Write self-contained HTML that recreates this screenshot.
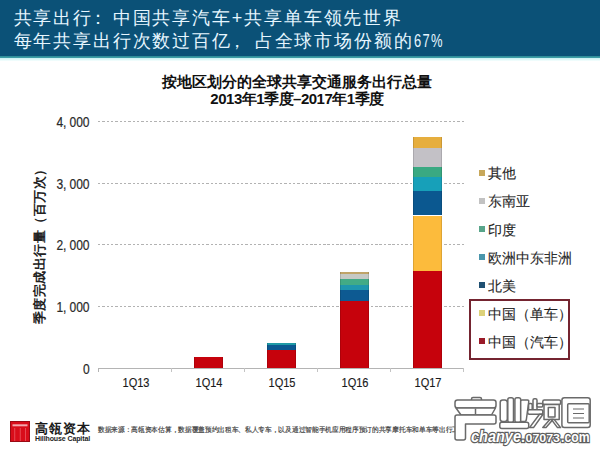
<!DOCTYPE html>
<html><head><meta charset="utf-8">
<style>
html,body{margin:0;padding:0;width:600px;height:450px;overflow:hidden;background:#fff;font-family:"Liberation Sans",sans-serif;}
.a{position:absolute;white-space:nowrap;}
#hdr{position:absolute;left:0;top:0;width:600px;height:56px;background:#0b5177;}
#hdrline{position:absolute;left:0;top:55.5px;width:600px;height:2.5px;background:linear-gradient(#2a8895,#44a4ac);}
#hdrglow{position:absolute;left:0;top:58px;width:600px;height:3px;background:linear-gradient(#c8f2f2,#f6fefe);}
.h1{color:#e6f6ff;font-size:18px;letter-spacing:1.85px;left:13.5px;line-height:20px;margin-top:1px;}
.title{font-weight:bold;font-size:15px;color:#111;line-height:16px;width:600px;text-align:center;left:-3px;margin-top:1px;}
.yl{font-size:14px;color:#2a2a2a;-webkit-text-stroke:.2px #2a2a2a;line-height:14px;right:510px;text-align:right;transform:scaleX(.86);transform-origin:100% 50%;}
.grid{position:absolute;left:98px;width:366px;height:1px;background:repeating-linear-gradient(90deg,#b2b2b2 0 2.4px,rgba(255,255,255,0) 2.4px 4.33px);}
.xl{font-size:12px;color:#1a1a1a;-webkit-text-stroke:.15px #1a1a1a;line-height:14px;width:60px;text-align:center;transform:scaleX(.92);margin-top:-1px;}
.bar{position:absolute;width:29px;box-shadow:inset 1px 0 rgba(0,0,0,.12),inset -1px 0 rgba(0,0,0,.12);}
.lg{font-size:13.5px;color:#1e1e1e;line-height:14px;left:488px;-webkit-text-stroke:.1px #1e1e1e;}
.sq{position:absolute;left:479px;width:6px;height:6px;}
</style></head><body>
<div id="hdr"></div><div id="hdrline"></div><div id="hdrglow"></div>
<div class="a h1" style="top:7px">共享出行<span style="position:relative;left:-4px">：</span>中国共享汽车+共享单车领先世界</div>
<div class="a h1" style="top:30px">每年共享出行次数过百亿<span style="position:relative;left:-4px;margin-right:3px">，</span>占全球市场份额的<span style="display:inline-block;transform:scaleX(.72);transform-origin:0 50%">67%</span></div>

<div class="a title" style="top:73px">按地区划分的全球共享交通服务出行总量</div>
<div class="a title" style="top:90px;letter-spacing:-.5px">2013年1季度–2017年1季度</div>

<!-- y axis title -->
<div class="a" style="left:40px;top:243px;transform:translate(-50%,-50%) rotate(-90deg);font-size:13.4px;letter-spacing:.5px;font-weight:bold;color:#222;line-height:14px;">季度完成出行量（百万次）</div>

<div class="a yl" style="top:115px">4,<span style="margin-left:3.5px">000</span></div>
<div class="a yl" style="top:177px">3,<span style="margin-left:3.5px">000</span></div>
<div class="a yl" style="top:238px">2,<span style="margin-left:3.5px">000</span></div>
<div class="a yl" style="top:300px">1,<span style="margin-left:3.5px">000</span></div>
<div class="a yl" style="top:362px">0</div>

<div class="grid" style="top:121px"></div>
<div class="grid" style="top:183px"></div>
<div class="grid" style="top:244px"></div>
<div class="grid" style="top:306px"></div>
<div style="position:absolute;left:98px;top:368px;width:366px;height:1px;background:#b4b4b4"></div>
<div style="position:absolute;left:98px;top:368px;width:1px;height:4px;background:#b4b4b4"></div>
<div style="position:absolute;left:171px;top:368px;width:1px;height:4px;background:#c4c4c4"></div>
<div style="position:absolute;left:244px;top:368px;width:1px;height:4px;background:#c4c4c4"></div>
<div style="position:absolute;left:317px;top:368px;width:1px;height:4px;background:#c4c4c4"></div>
<div style="position:absolute;left:390px;top:368px;width:1px;height:4px;background:#c4c4c4"></div>
<div style="position:absolute;left:463px;top:368px;width:1px;height:4px;background:#c4c4c4"></div>

<!-- bars -->
<div class="bar" style="left:194px;top:357px;height:11px;background:#c6020c"></div>

<div class="bar" style="left:267px;top:343px;height:2px;background:#1f9aa6"></div>
<div class="bar" style="left:267px;top:345px;height:5px;background:#0b5890"></div>
<div class="bar" style="left:267px;top:350px;height:18px;background:#c6020c"></div>

<div class="bar" style="left:340px;top:272px;height:2px;background:#c0a468"></div>
<div class="bar" style="left:340px;top:274px;height:5px;background:#c6c9c4"></div>
<div class="bar" style="left:340px;top:279px;height:6px;background:#42ab86"></div>
<div class="bar" style="left:340px;top:285px;height:5px;background:#1f96ae"></div>
<div class="bar" style="left:340px;top:290px;height:11px;background:#0d5a92"></div>
<div class="bar" style="left:340px;top:301px;height:67px;background:#c6020c"></div>

<div class="bar" style="left:413px;top:137px;height:11px;background:#e6ae3e"></div>
<div class="bar" style="left:413px;top:148px;height:19px;background:#c3c1c6"></div>
<div class="bar" style="left:413px;top:167px;height:10px;background:#3aa982"></div>
<div class="bar" style="left:413px;top:177px;height:14px;background:#17a0b9"></div>
<div class="bar" style="left:413px;top:191px;height:24px;background:#0b5890"></div>
<div class="bar" style="left:413px;top:216px;height:55px;background:#fcbb3c"></div>
<div class="bar" style="left:413px;top:271px;height:97px;background:#c6020c"></div>

<div class="a xl" style="left:106px;top:377px">1Q13</div>
<div class="a xl" style="left:179px;top:377px">1Q14</div>
<div class="a xl" style="left:252px;top:377px">1Q15</div>
<div class="a xl" style="left:325px;top:377px">1Q16</div>
<div class="a xl" style="left:398px;top:377px">1Q17</div>

<!-- legend -->
<div class="sq" style="top:170px;background:#c8a85a"></div><div class="a lg" style="top:167px">其他</div>
<div class="sq" style="top:198px;background:#c2c2c2"></div><div class="a lg" style="top:195px">东南亚</div>
<div class="sq" style="top:226px;background:#58a58a"></div><div class="a lg" style="top:224px">印度</div>
<div class="sq" style="top:254px;background:#4a96ac"></div><div class="a lg" style="top:252px">欧洲中东非洲</div>
<div class="sq" style="top:282px;background:#1f5072"></div><div class="a lg" style="top:280px">北美</div>
<div style="position:absolute;left:469px;top:299px;width:97px;height:57px;border:2px solid #742430;"></div>
<div class="sq" style="top:310px;background:#ddd27a"></div><div class="a lg" style="top:308px">中国（单车）</div>
<div class="sq" style="top:338px;background:#9a1a28"></div><div class="a lg" style="top:336px">中国（汽车）</div>
<!-- footer -->
<svg style="position:absolute;left:10px;top:421px" width="20" height="21" viewBox="0 0 20 21">
<rect x="0" y="0" width="20" height="21" fill="#9a0a14"/>
<rect x="1" y="1" width="18" height="19" fill="#d80d1a"/>
<rect x="2.5" y="3.3" width="15" height="2" fill="#f2a8ae"/>
<rect x="4.3" y="7" width="0.9" height="13" fill="#e8505a"/>
<rect x="9.8" y="7" width="0.9" height="13" fill="#e8505a"/>
<rect x="15" y="7" width="0.9" height="13" fill="#e8505a"/>
</svg>
<div class="a" style="left:35px;top:422px;font-size:13px;font-weight:bold;letter-spacing:.9px;color:#1a1a1a;line-height:14px">高瓴资本</div>
<div class="a" style="left:35px;top:435px;font-size:7px;font-weight:bold;color:#222;line-height:8px;letter-spacing:-.1px">Hillhouse Capital</div>
<div class="a" style="left:98px;top:425.5px;font-size:14px;color:#444;font-family:'Liberation Serif',serif;line-height:16px;transform:scale(.4775,.5);transform-origin:0 0;-webkit-text-stroke:.4px #444">数据来源：高瓴资本估算，数据覆盖预约出租车、私人专车，以及通过智能手机应用程序预订的共享摩托车和单车等出行工具</div>
<!-- watermark -->
<svg style="position:absolute;left:0;top:0" width="600" height="450" viewBox="0 0 600 450">
<g fill="#fff" stroke="#6a6a6a" stroke-width="1.5" stroke-linejoin="round">
<!-- chan -->
<rect x="471.5" y="397.5" width="10" height="4" rx="1.5"/>
<rect x="455" y="400" width="41" height="8" rx="2.5"/>
<path d="M456,408 L461,415 L491.5,415 L495.5,408 Z"/>
<path d="M475.5,408.5 V414.5" fill="none"/>
<path d="M457,415 H494 Q496,415 496,417 V422 Q496,424 494,424 H465.5 V438 Q465.5,440 463.5,440 H457 Q455,440 455,438 V417 Q455,415 457,415 Z"/>
<!-- ye -->
<rect x="500.2" y="400" width="7.1" height="21.5" rx="2.5"/>
<rect x="507.8" y="397.8" width="5.7" height="24.7" rx="2"/>
<rect x="514.9" y="397.8" width="5.8" height="24.7" rx="2"/>
<path d="M522,400 H527.5 Q529,400 528.7,402 L526.3,420 Q526,421.5 524.5,421.5 H521 Q520.7,421.5 520.7,420 V401.5 Q520.7,400 522,400 Z"/>
<rect x="499.8" y="422.2" width="28.9" height="6.2" rx="2"/>
<!-- pin left -->
<rect x="533" y="398.7" width="4" height="14" rx="1.5"/>
<rect x="537" y="403.6" width="5.8" height="3.3" rx="1.2"/>
<rect x="528.6" y="403.6" width="3.6" height="8.5" rx="1.2"/>
<rect x="527.7" y="409.8" width="15.1" height="4.4" rx="1.5"/>
<path d="M539.5,414.2 L543,414.2 L533.5,427.6 L529.5,427.6 Z"/>
<!-- pin right -->
<rect x="542.8" y="400" width="17.8" height="4.4" rx="1.5"/>
<path d="M544,404.4 H559.2 V419.6 H544 Z"/>
<path d="M548.3,407.5 H555 V417 H548.3 Z"/>
<path d="M549.9,419.6 L553,419.6 L546,427.6 L542.8,427.6 Z"/>
<path d="M551.5,419.6 L554.3,419.6 L560.6,427.6 L557.5,427.6 Z"/>
<!-- dao -->
<rect x="561.9" y="397.8" width="28.3" height="29.8" rx="2.5"/>
<rect x="567.7" y="403.7" width="21.5" height="19" rx="1"/>
</g>
<g fill="none" stroke="#6a6a6a" stroke-width="1.2">
<path d="M573,409 H584 M573,413.5 H584 M573,418 H584"/>
</g>
<g font-family="Liberation Sans" font-weight="bold" fill="#fff" stroke="#5e5e5e" stroke-width="2.4" paint-order="stroke" lengthAdjust="spacingAndGlyphs">
<text x="471" y="442" font-size="16" font-style="italic" textLength="50" lengthAdjust="spacingAndGlyphs">chanye</text>
<text x="521" y="441.5" font-size="14" textLength="4" lengthAdjust="spacingAndGlyphs">.</text>
<text x="525.5" y="441.5" font-size="11.5" textLength="34.5" lengthAdjust="spacingAndGlyphs">07073</text>
<text x="561" y="441.5" font-size="14" textLength="28.5" lengthAdjust="spacingAndGlyphs">.com</text>
</g>
</svg>
</body></html>
